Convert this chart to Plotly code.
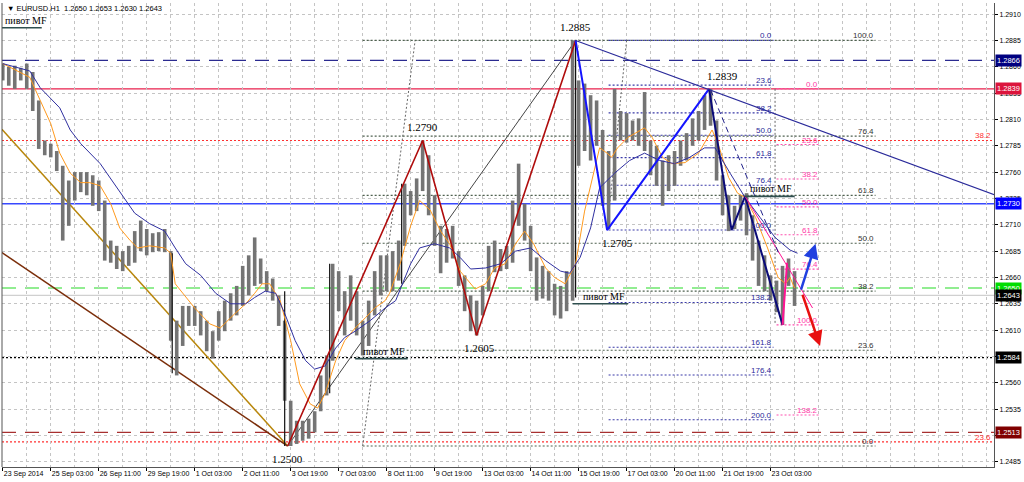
import plotly.graph_objects as go

# ---------------- axis data ----------------
x_tick_bars = [0, 32, 64, 96, 128, 160, 192, 224, 256, 288, 320, 352, 384, 416, 448, 480, 512]
x_tick_labels = ["23 Sep 2014", "25 Sep 03:00", "26 Sep 11:00", "29 Sep 19:00", "1 Oct 03:00",
                 "2 Oct 11:00", "3 Oct 19:00", "7 Oct 03:00", "8 Oct 11:00", "9 Oct 19:00",
                 "13 Oct 03:00", "14 Oct 11:00", "15 Oct 19:00", "17 Oct 03:00", "20 Oct 11:00",
                 "21 Oct 19:00", "23 Oct 03:00"]
y_tick_vals = [1.2485, 1.2510, 1.2535, 1.2560, 1.2585, 1.2610, 1.2635, 1.2660, 1.2685,
               1.2710, 1.2735, 1.2760, 1.2785, 1.2810, 1.2835, 1.2860, 1.2885, 1.2910]
# 1.2585 is hidden behind the 1.2584 price box in the reference
y_tick_text = ["1.2485", "1.2510", "1.2535", "1.2560", "", "1.2610", "1.2635", "1.2660",
               "1.2685", "1.2710", "1.2735", "1.2760", "1.2785", "1.2810", "1.2835", "1.2860",
               "1.2885", "1.2910"]

# ---------------- price data (EURUSD H1, sampled every 4 bars) ----------------
bars = list(range(0, 532, 4))
hi = [1.2863, 1.2860, 1.2861, 1.2859, 1.2863, 1.2855, 1.2828, 1.2790, 1.2787, 1.2780,
      1.2766, 1.2752, 1.2760, 1.2760, 1.2760, 1.2757, 1.2752, 1.2733, 1.2695, 1.2690,
      1.2685, 1.2690, 1.2704, 1.2714, 1.2706, 1.2702, 1.2703, 1.2706, 1.2685, 1.2619,
      1.2633, 1.2633, 1.2633, 1.2628, 1.2619, 1.2609, 1.2628, 1.2638, 1.2645, 1.2652,
      1.2671, 1.2681, 1.2698, 1.2678, 1.2666, 1.2659, 1.2643, 1.2619, 1.2543, 1.2524,
      1.2524, 1.2526, 1.2533, 1.2567, 1.2586, 1.2673, 1.2666, 1.2647, 1.2662, 1.2647,
      1.2619, 1.2638, 1.2666, 1.2681, 1.2681, 1.2685, 1.2695, 1.2749, 1.2742, 1.2754,
      1.2790, 1.2776, 1.2738, 1.2709, 1.2706, 1.2709, 1.2685, 1.2662, 1.2643, 1.2638,
      1.2652, 1.2690, 1.2695, 1.2687, 1.2690, 1.2733, 1.2768, 1.2730, 1.2709, 1.2679,
      1.2671, 1.2666, 1.2654, 1.2652, 1.2666, 1.2885, 1.2847, 1.2844, 1.2833, 1.2828,
      1.2800, 1.2780, 1.2839, 1.2818, 1.2816, 1.2809, 1.2811, 1.2836, 1.2790, 1.2785,
      1.2771, 1.2776, 1.2780, 1.2790, 1.2797, 1.2811, 1.2818, 1.2833, 1.2839, 1.2809,
      1.2757, 1.2738, 1.2728, 1.2738, 1.2740, 1.2719, 1.2695, 1.2681, 1.2662, 1.2657,
      1.2671, 1.2678, 1.2666]
lo = [1.2847, 1.2842, 1.2839, 1.2847, 1.2839, 1.2818, 1.2782, 1.2776, 1.2774, 1.2761,
      1.2695, 1.2709, 1.2733, 1.2741, 1.2738, 1.2728, 1.2723, 1.2676, 1.2674, 1.2668,
      1.2666, 1.2671, 1.2674, 1.2685, 1.2681, 1.2684, 1.2685, 1.2684, 1.2600, 1.2567,
      1.2595, 1.2614, 1.2614, 1.2605, 1.2590, 1.2583, 1.2600, 1.2609, 1.2619, 1.2624,
      1.2633, 1.2643, 1.2652, 1.2654, 1.2647, 1.2638, 1.2614, 1.2543, 1.2500, 1.2502,
      1.2505, 1.2507, 1.2513, 1.2533, 1.2548, 1.2581, 1.2628, 1.2605, 1.2619, 1.2605,
      1.2586, 1.2595, 1.2624, 1.2643, 1.2647, 1.2647, 1.2657, 1.2690, 1.2719, 1.2723,
      1.2742, 1.2719, 1.2690, 1.2664, 1.2674, 1.2678, 1.2652, 1.2628, 1.2609, 1.2605,
      1.2624, 1.2647, 1.2665, 1.2666, 1.2668, 1.2674, 1.2709, 1.2695, 1.2666, 1.2638,
      1.2640, 1.2638, 1.2624, 1.2621, 1.2628, 1.2638, 1.2766, 1.2780, 1.2771, 1.2785,
      1.2728, 1.2706, 1.2733, 1.2790, 1.2788, 1.2790, 1.2785, 1.2780, 1.2757, 1.2747,
      1.2728, 1.2742, 1.2747, 1.2766, 1.2771, 1.2785, 1.2790, 1.2800, 1.2804, 1.2752,
      1.2719, 1.2704, 1.2706, 1.2714, 1.2700, 1.2676, 1.2652, 1.2647, 1.2638, 1.2627,
      1.2615, 1.2652, 1.2633]

# large single-bar moves drawn in black
spike_bars = [113, 188, 218, 266, 382]
spike_hi = [1.2683, 1.2647, 1.2673, 1.2749, 1.2885]
spike_lo = [1.2569, 1.2500, 1.2550, 1.2654, 1.2641]

# moving averages
ma_fast_bars = [0, 18, 25, 32, 38, 45, 52, 58, 65, 72, 78, 85, 90, 98, 108, 112, 115, 122, 128,
                138, 145, 155, 162, 168, 173, 178, 185, 192, 198, 205, 210, 215, 222, 228, 235,
                242, 248, 255, 258, 265, 272, 278, 285, 292, 298, 305, 315, 322, 328, 335, 342,
                348, 354, 362, 368, 375, 382, 388, 398, 403, 406, 410, 417, 428, 433, 440, 446,
                455, 464, 473, 477, 484, 490, 495, 502, 510, 517, 522, 525, 528]
ma_fast = [1.2863, 1.2850, 1.2828, 1.2806, 1.2778, 1.2759, 1.2750, 1.2750, 1.2747, 1.2730,
           1.2707, 1.2695, 1.2688, 1.2690, 1.2688, 1.2683, 1.2654, 1.2641, 1.2631, 1.2616,
           1.2612, 1.2626, 1.2635, 1.2645, 1.2654, 1.2654, 1.2638, 1.2600, 1.2559, 1.2540,
           1.2536, 1.2550, 1.2581, 1.2600, 1.2612, 1.2622, 1.2631, 1.2638, 1.2645, 1.2673,
           1.2709, 1.2733, 1.2724, 1.2704, 1.2692, 1.2666, 1.2649, 1.2654, 1.2669, 1.2673,
           1.2692, 1.2704, 1.2692, 1.2669, 1.2660, 1.2654, 1.2673, 1.2723, 1.2783, 1.2778,
           1.2774, 1.2783, 1.2793, 1.2802, 1.2793, 1.2774, 1.2768, 1.2769, 1.2778, 1.2800,
           1.2787, 1.2755, 1.2740, 1.2736, 1.2717, 1.2688, 1.2660, 1.2654, 1.2660, 1.2650]
ma_slow_bars = [0, 18, 25, 38, 45, 52, 65, 78, 88, 98, 108, 115, 122, 132, 142, 152, 162, 168,
                175, 182, 188, 195, 202, 208, 215, 222, 228, 235, 245, 255, 262, 272, 278, 288,
                298, 305, 312, 322, 332, 342, 352, 362, 372, 378, 385, 392, 398, 408, 418, 428,
                438, 448, 458, 468, 475, 485, 495, 505, 515, 525, 530]
ma_slow = [1.2863, 1.2856, 1.2840, 1.2821, 1.2800, 1.2787, 1.2768, 1.2742, 1.2721, 1.2711,
           1.2704, 1.2688, 1.2673, 1.2662, 1.2645, 1.2635, 1.2635, 1.2641, 1.2647, 1.2645,
           1.2626, 1.2600, 1.2581, 1.2573, 1.2576, 1.2593, 1.2603, 1.2609, 1.2619, 1.2631,
           1.2638, 1.2673, 1.2688, 1.2692, 1.2688, 1.2679, 1.2668, 1.2669, 1.2673, 1.2685,
           1.2688, 1.2676, 1.2666, 1.2664, 1.2679, 1.2707, 1.2745, 1.2759, 1.2771, 1.2778,
           1.2771, 1.2768, 1.2774, 1.2783, 1.2783, 1.2759, 1.2736, 1.2717, 1.2698, 1.2686,
           1.2683]

# horizontal levels (price, line colour, dash, label background)
h_levels = [1.2866, 1.2839, 1.2730, 1.2650, 1.2643, 1.2584, 1.2513]
h_colors = ["#2b2b90", "#e8204c", "#3848ff", "#6ee86e", "#d0d0d0", "#000000", "#a83030"]
h_dash = ["14px,9px", "solid", "solid", "14px,9px", "solid", "2px,2px", "14px,9px"]
h_widths = [1.3, 1.2, 1.6, 1.6, 1.2, 1.2, 1.4]
h_label_bg = ["#000080", "#dc143c", "#0000ff", "#00dd00", "#000000", "#000000", "#800000"]

red_levels = [1.2790, 1.2504]
red_labels = ["38.2", "23.6"]

# fibonacci sets (price at 0 %, price at 100 %, level list, bar span)
fib1_zero, fib1_full = 1.2500, 1.2885
fib1_ratios = [0.0, 23.6, 38.2, 50.0, 61.8, 76.4, 100.0]
fib1_span = [240, 582]
fib2_zero, fib2_full = 1.2885, 1.2705
fib2_ratios = [0.0, 23.6, 38.2, 50.0, 61.8, 76.4, 100.0, 138.2, 161.8, 176.4, 200.0]
fib2_span = [404, 514]
fib3_zero, fib3_full = 1.2839, 1.2615
fib3_ratios = [0.0, 23.6, 38.2, 50.0, 61.8, 76.4, 100.0, 138.2]
fib3_span = [516, 545]

# drawn trend / zigzag lines
gold_bars, gold_px = [-2, 190], [1.2803, 1.2500]
brown_bars, brown_px = [-2, 190], [1.2685, 1.2500]
red_zz_bars, red_zz_px = [190, 280, 316, 382], [1.2500, 1.2790, 1.2605, 1.2885]
gray_bars, gray_px = [190, 382], [1.2500, 1.2885]
blue_zz_bars, blue_zz_px = [382, 403, 471], [1.2885, 1.2705, 1.2839]
navy_zz_bars, navy_zz_px = [471, 486, 495, 520], [1.2839, 1.2705, 1.2737, 1.2615]
pink_seg_bars, pink_seg_px = [520, 523], [1.2615, 1.2674]
pink_thin_bars, pink_thin_px = [495, 540], [1.2737, 1.2631]
navy_dash_bars, navy_dash_px = [472, 518], [1.2838, 1.2681]
trend_bars, trend_px = [382, 664], [1.2885, 1.2737]
fib_diag = [([240, 275], [1.2500, 1.2885]), ([416, 403], [1.2885, 1.2705]),
            ([515, 515], [1.2839, 1.2615])]

# pivot MF markers (start bar, end bar, price, text anchored at start or end)
pivots = [(-2, 26, 1.2897, "start"), (495, 528, 1.2737, "end"),
          (380, 417, 1.2635, "end"), (235, 270, 1.2583, "end")]

# price labels at swing points (bar, price, text, position)
swing_labels = [(382, 1.2885, "1.2885", "top"), (280, 1.2790, "1.2790", "top"),
                (480, 1.2839, "1.2839", "top"), (410, 1.2705, "1.2705", "bottom"),
                (318, 1.2605, "1.2605", "bottom"), (190, 1.2500, "1.2500", "bottom")]

# forecast arrows (tail bar, tail price, head bar, head price, colour)
arrows = [(532, 1.2647, 542, 1.2692, "#2040e0"), (533, 1.2645, 545, 1.2595, "#e81010")]

header = "▼ EURUSD.H1  1.2650 1.2653 1.2630 1.2643"

# ---------------- figure ----------------
fig = go.Figure()
TICK_FONT = dict(size=7, family="Liberation Sans", color="#000")

def line(xs, ys, color, width=1.0, dash="solid"):
    fig.add_trace(go.Scatter(x=xs, y=ys, mode="lines", hoverinfo="skip",
                             line=dict(color=color, width=width, dash=dash)))

annotations = []
shapes = []

# full-width horizontal levels
for p, c, d, w in zip(h_levels, h_colors, h_dash, h_widths):
    shapes.append(dict(type="line", xref="paper", x0=0, x1=1, yref="y", y0=p, y1=p,
                       line=dict(color=c, width=w, dash=d), layer="below"))
for p, t in zip(red_levels, red_labels):
    shapes.append(dict(type="line", xref="paper", x0=0, x1=1, yref="y", y0=p, y1=p,
                       line=dict(color="#ff3030", width=1.2, dash="2px,2px"), layer="below"))
    annotations.append(dict(x=1, xref="paper", y=p, yref="y", text=t, showarrow=False,
                            xanchor="right", yanchor="bottom", yshift=-2, xshift=-1,
                            font=dict(size=8, color="#ff3030", family="Liberation Sans")))

# trend lines behind the price
line(gold_bars, gold_px, "#b8860b", 1.5)
line(brown_bars, brown_px, "#7b2e0a", 1.5)
line(gray_bars, gray_px, "#444444", 1.0)
for xs, ys in fib_diag:
    line(xs, ys, "#666666", 1.0, "2px,2px")

# fib levels
def fib(zero, full, ratios, span, color, lcolor):
    for r in ratios:
        p = zero + (full - zero) * r / 100.0
        line(span, [p, p], color, 1.1, "2px,2px")
        annotations.append(dict(x=span[1], y=p, text=f"{r:.1f}", showarrow=False,
                                xanchor="right", yanchor="bottom", yshift=-2,
                                font=dict(size=8, color=lcolor, family="Liberation Sans")))

fib(fib1_zero, fib1_full, fib1_ratios, fib1_span, "#4f6250", "#333333")
fib(fib2_zero, fib2_full, fib2_ratios, fib2_span, "#3a3aa8", "#2a2a9a")
fib(fib3_zero, fib3_full, fib3_ratios, fib3_span, "#ff50b0", "#ff3aa8")

# price bars
px_x, px_y = [], []
for b, h, l in zip(bars, hi, lo):
    px_x += [b, b, None]
    px_y += [l, h, None]
line(px_x, px_y, "#747474", 3.6)
sx, sy = [], []
for b, h, l in zip(spike_bars, spike_hi, spike_lo):
    sx += [b, b, None]
    sy += [l, h, None]
line(sx, sy, "#111111", 1.2)

# moving averages
line(ma_fast_bars, ma_fast, "#ff9a1e", 1.0)
line(ma_slow_bars, ma_slow, "#3030a0", 1.0)

# zigzags and trend lines on top
line(red_zz_bars, red_zz_px, "#b00c0c", 1.6)
line(blue_zz_bars, blue_zz_px, "#1414ff", 2.0)
line(navy_zz_bars, navy_zz_px, "#0a0a78", 2.0)
line(pink_seg_bars, pink_seg_px, "#ff1493", 2.0)
line(pink_thin_bars, pink_thin_px, "#ff1493", 1.0)
line(navy_dash_bars, navy_dash_px, "#20208a", 1.0, "6px,4px")
line(trend_bars, trend_px, "#2a2a9a", 1.1)

# pivot MF markers
for b0, b1, p, anchor in pivots:
    line([b0, b1], [p, p], "#2f4f4f", 1.6)
    if anchor == "start":
        annotations.append(dict(x=0, xref="paper", y=p, text="пивот MF", showarrow=False,
                                xanchor="left", yanchor="bottom", xshift=1,
                                font=dict(size=10, color="#000000", family="Liberation Serif")))
    else:
        annotations.append(dict(x=b1, y=p, text="пивот MF", showarrow=False, xanchor="right",
                                yanchor="bottom", xshift=-1,
                                font=dict(size=10, color="#000000", family="Liberation Serif")))

# swing labels
for b, p, t, pos in swing_labels:
    annotations.append(dict(x=b, y=p, text=t, showarrow=False, xanchor="center",
                            yanchor="bottom" if pos == "top" else "top",
                            yshift=5 if pos == "top" else -5,
                            font=dict(size=11, color="#000000", family="Liberation Serif")))

# arrows
for tb, tp, hb, hp, c in arrows:
    annotations.append(dict(x=hb, y=hp, ax=tb, ay=tp, axref="x", ayref="y", xref="x", yref="y",
                            text="", showarrow=True, arrowhead=2, arrowsize=1.2,
                            arrowwidth=2.5, arrowcolor=c))

# price boxes on the axis
for p, bg in zip(h_levels, h_label_bg):
    annotations.append(dict(x=1, xref="paper", y=p, yref="y", text=f"{p:.4f}", showarrow=False,
                            xanchor="left", yanchor="middle", xshift=1, bgcolor=bg,
                            borderpad=1, font=dict(size=7.5, color="#ffffff", family="Liberation Sans")))

# header
annotations.append(dict(x=0, xref="paper", y=1, yref="paper", text=header, showarrow=False,
                        xanchor="left", yanchor="top", xshift=3, yshift=1,
                        font=dict(size=7.5, color="#000000", family="Liberation Sans")))

# left frame line
shapes.append(dict(type="line", xref="paper", yref="paper", x0=0, x1=0, y0=0, y1=1,
                   line=dict(color="#555555", width=1)))

fig.update_layout(
    width=1024, height=482,
    margin=dict(l=2, r=30, t=3, b=15, autoexpand=False),
    paper_bgcolor="#ffffff", plot_bgcolor="#ffffff",
    showlegend=False,
    annotations=annotations, shapes=shapes,
    font=dict(family="Liberation Sans", size=8, color="#000000"),
    xaxis=dict(range=[-0.5, 661], tickmode="array", tickvals=x_tick_bars, ticktext=x_tick_labels,
               ticklabelposition="outside right", tickangle=0, automargin=False,
               ticks="outside", ticklen=3, tickcolor="#000",
               showgrid=True, gridcolor="#c4c4c4", griddash="dot", gridwidth=1,
               minor=dict(dtick=16, tick0=0, showgrid=True, gridcolor="#c4c4c4", griddash="dot",
                          ticks=""),
               showline=True, linecolor="#555555", linewidth=1, zeroline=False,
               tickfont=TICK_FONT),
    yaxis=dict(range=[1.24801, 1.29205], side="right", tickmode="array", tickvals=y_tick_vals,
               ticktext=y_tick_text, ticks="outside", ticklen=3, tickcolor="#000",
               automargin=False,
               showgrid=True, gridcolor="#c4c4c4", griddash="dot", gridwidth=1,
               showline=True, linecolor="#555555", linewidth=1, zeroline=False,
               tickfont=TICK_FONT),
)

fig.write_html("out.html", config={"displayModeBar": False},
               post_script="document.body.style.margin='0';")
